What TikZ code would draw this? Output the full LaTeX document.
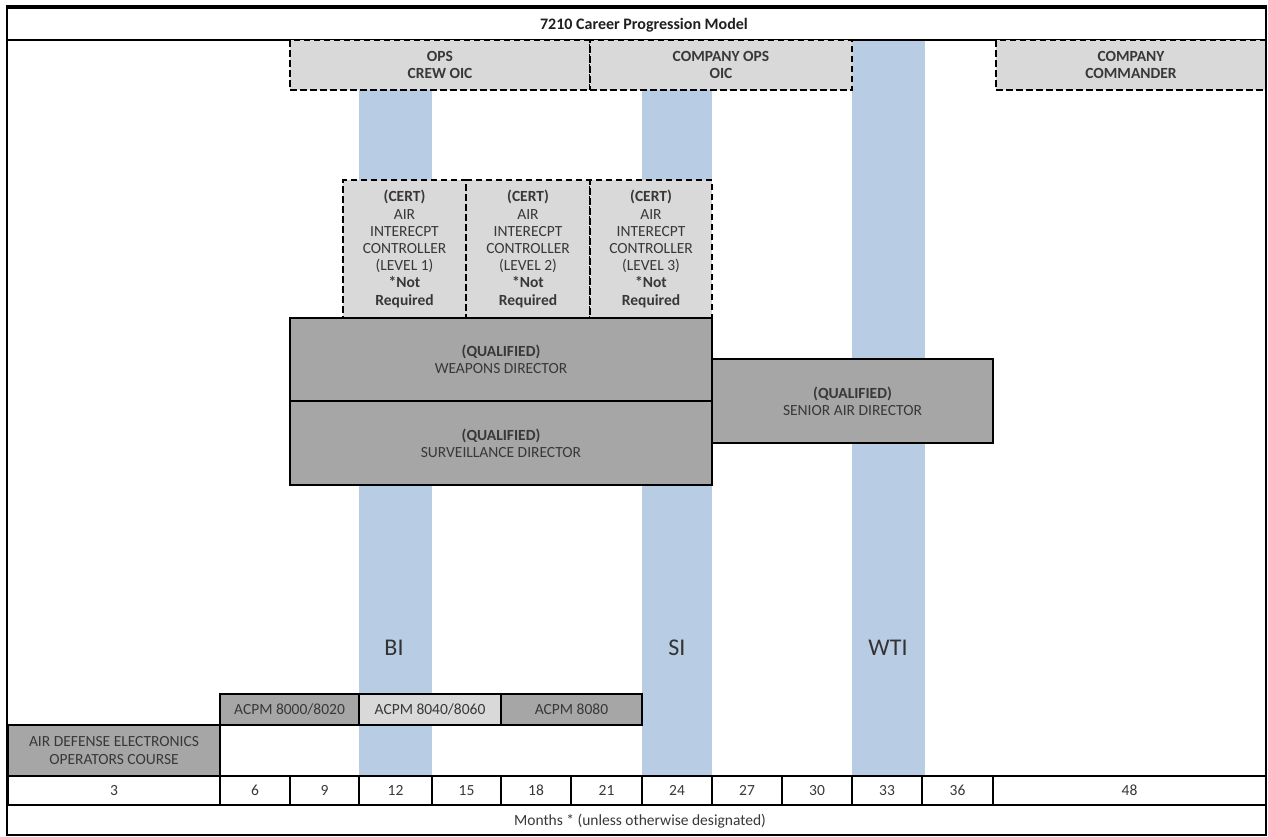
\documentclass[tikz,border=0pt]{standalone}
\usepackage{fontspec}
\setmainfont{Carlito}
\begin{document}
\begin{tikzpicture}[x=1pt,y=-1pt,
  every node/.style={inner sep=0pt,outer sep=0pt,font=\fontsize{15.5}{17.2}\selectfont,text=black!78,align=center},
  dashbox/.style={draw=black,fill=lgray,line width=1.6pt,dash pattern=on 6.5pt off 3.5pt,anchor=north west},
  darkbox/.style={draw=black,fill=dgray,line width=1.6pt,anchor=north west},
  lightbox/.style={draw=black,fill=lgray,line width=1.6pt,anchor=north west},
  cell/.style={draw=black,fill=white,line width=1.6pt,anchor=north west,minimum height=29pt},
  bluecol/.style={fill=bcol,anchor=north west},
  biglabel/.style={font=\fontsize{24}{26}\selectfont,text=black!80}]
\definecolor{bcol}{RGB}{184,204,228}
\definecolor{dgray}{RGB}{166,166,166}
\definecolor{lgray}{RGB}{217,217,217}
\useasboundingbox (0,0) rectangle (1268,836);
\fill[white] (0,0) rectangle (1268,836);
% blue columns
\node[bluecol,minimum width=73pt,minimum height=686pt] (bicol) at (359,90) {};
\node[bluecol,minimum width=70pt,minimum height=686pt] (sicol) at (642,90) {};
\node[bluecol,minimum width=73pt,minimum height=736pt] (wticol) at (852,40) {};
\node[biglabel] (bi) at (394,648) {BI};
\node[biglabel] (si) at (677,648) {SI};
\node[biglabel] (wti) at (888,648) {WTI};
% title row
\node[font=\bfseries\fontsize{16}{18}\selectfont,text=black!88] (title) at (644,25) {7210 Career Progression Model};
\draw[line width=1.6pt] (7,40) -- (1266,40);
% top dashed boxes
\node[dashbox,minimum width=300pt,minimum height=50pt] (opscrew) at (290,40) {\bfseries OPS\\\bfseries CREW OIC};
\node[dashbox,minimum width=262pt,minimum height=50pt] (coops) at (590,40) {\bfseries COMPANY OPS\\\bfseries OIC};
\node[dashbox,minimum width=270pt,minimum height=50pt] (cocmd) at (996,40) {\bfseries COMPANY\\\bfseries COMMANDER};
% cert boxes
\node[dashbox,minimum width=123pt,minimum height=138pt] (cert1) at (343,180) {\textbf{(CERT)}\\AIR\\INTERECPT\\CONTROLLER\\(LEVEL 1)\\\textbf{*Not}\\\textbf{Required}};
\node[dashbox,minimum width=124pt,minimum height=138pt] (cert2) at (466,180) {\textbf{(CERT)}\\AIR\\INTERECPT\\CONTROLLER\\(LEVEL 2)\\\textbf{*Not}\\\textbf{Required}};
\node[dashbox,minimum width=122pt,minimum height=138pt] (cert3) at (590,180) {\textbf{(CERT)}\\AIR\\INTERECPT\\CONTROLLER\\(LEVEL 3)\\\textbf{*Not}\\\textbf{Required}};
% qualified boxes
\node[darkbox,minimum width=422pt,minimum height=83pt] (wd) at (290,318) {\textbf{(QUALIFIED)}\\WEAPONS DIRECTOR};
\node[darkbox,minimum width=422pt,minimum height=84pt] (sd) at (290,401) {\textbf{(QUALIFIED)}\\SURVEILLANCE DIRECTOR};
\node[darkbox,minimum width=281pt,minimum height=84pt] (sad) at (712,359) {\textbf{(QUALIFIED)}\\SENIOR AIR DIRECTOR};
% courses
\node[darkbox,minimum width=139pt,minimum height=31pt] (acpm1) at (220,694) {ACPM 8000/8020};
\node[lightbox,minimum width=142pt,minimum height=31pt] (acpm2) at (359,694) {ACPM 8040/8060};
\node[darkbox,minimum width=141pt,minimum height=31pt] (acpm3) at (501,694) {ACPM 8080};
\node[darkbox,minimum width=212pt,minimum height=51pt] (adeoc) at (8,725) {AIR DEFENSE ELECTRONICS\\OPERATORS COURSE};
% timeline
\node[cell,minimum width=212pt] (m3) at (8,776) {3};
\node[cell,minimum width=70pt] (m6) at (220,776) {6};
\node[cell,minimum width=69pt] (m9) at (290,776) {9};
\node[cell,minimum width=73pt] (m12) at (359,776) {12};
\node[cell,minimum width=69pt] (m15) at (432,776) {15};
\node[cell,minimum width=70pt] (m18) at (501,776) {18};
\node[cell,minimum width=71pt] (m21) at (571,776) {21};
\node[cell,minimum width=70pt] (m24) at (642,776) {24};
\node[cell,minimum width=70pt] (m27) at (712,776) {27};
\node[cell,minimum width=70pt] (m30) at (782,776) {30};
\node[cell,minimum width=70pt] (m33) at (852,776) {33};
\node[cell,minimum width=71pt] (m36) at (922,776) {36};
\node[cell,minimum width=273pt] (m48) at (993,776) {48};
\node (months) at (640,821) {Months * (unless otherwise designated)};
% outer frame
\draw[line width=1.6pt] (7,7) rectangle (1266,835);
\draw[line width=3.5pt] (6,7) -- (1267,7);
\end{tikzpicture}
\end{document}
